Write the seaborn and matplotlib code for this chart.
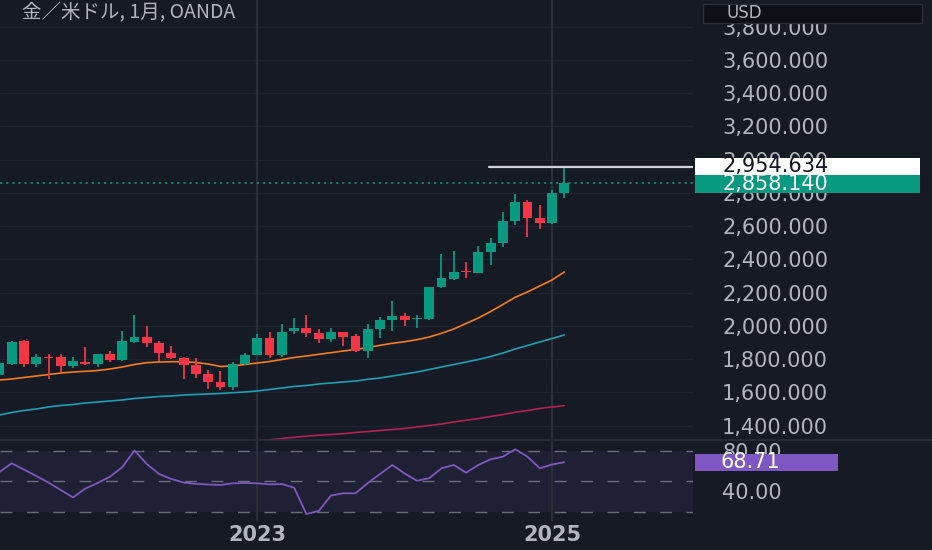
import numpy as np
import pandas as pd
import matplotlib
matplotlib.use("Agg")
import matplotlib.pyplot as plt
import seaborn as sns
from matplotlib.patches import Rectangle
from matplotlib.lines import Line2D

# ---------------- data ----------------
title = "金／米ドル, 1月, OANDA"
months = pd.date_range("2021-04-01", periods=47, freq="MS")

open_ = [1705.0, 1771.2, 1911.6, 1769.4, 1815.1, 1811.5, 1759.2, 1785.1, 1771.2, 1829.6,
         1795.3, 1905.3, 1935.4, 1899.3, 1839.2, 1805.5, 1765.2, 1711.0, 1661.1, 1631.0,
         1769.4, 1825.4, 1925.8, 1825.4, 1971.5, 1985.9, 1959.5, 1919.8, 1961.9, 1941.4,
         1849.5, 1981.8, 2036.0, 2060.0, 2040.2, 2042.0, 2232.6, 2282.5, 2330.6, 2320.4,
         2446.8, 2500.9, 2631.5, 2743.9, 2647.7, 2621.2, 2798.1]
high = [1797.0, 1911.3, 1916.0, 1831.4, 1831.0, 1831.0, 1811.5, 1875.3, 1833.0, 1851.2,
        1971.5, 2066.0, 1999.8, 1911.3, 1879.5, 1811.5, 1805.5, 1735.1, 1729.0, 1785.1,
        1835.6, 1949.9, 1961.9, 2011.9, 2046.0, 2066.0, 1981.8, 1985.9, 1965.0, 1951.7,
        2011.9, 2052.2, 2150.2, 2079.8, 2066.0, 2236.0, 2431.1, 2451.0, 2386.6, 2481.0,
        2527.4, 2683.8, 2792.1, 2757.8, 2727.7, 2818.0, 2954.634]
low = [1680.0, 1765.0, 1755.0, 1752.0, 1681.0, 1724.9, 1745.3, 1765.2, 1755.0, 1783.2,
       1788.0, 1895.7, 1875.3, 1789.3, 1803.0, 1681.0, 1688.0, 1619.1, 1614.8, 1616.0,
       1765.0, 1823.0, 1805.5, 1811.5, 1951.7, 1931.8, 1895.7, 1905.3, 1881.3, 1846.0,
       1809.2, 1925.8, 1971.5, 1999.8, 1986.0, 2035.0, 2228.0, 2277.0, 2286.7, 2318.0,
       2366.8, 2473.2, 2607.4, 2533.4, 2583.3, 2615.0, 2771.6]
close = [1777.2, 1905.3, 1771.2, 1815.1, 1807.3, 1759.2, 1789.3, 1771.2, 1829.6, 1795.3,
         1911.6, 1935.4, 1895.7, 1839.2, 1805.5, 1765.2, 1711.0, 1661.1, 1631.0, 1769.4,
         1825.4, 1925.8, 1825.4, 1965.5, 1985.9, 1959.5, 1921.6, 1965.5, 1935.4, 1849.5,
         1981.8, 2036.0, 2060.0, 2036.0, 2046.0, 2232.6, 2286.8, 2326.5, 2322.8, 2446.8,
         2500.9, 2631.5, 2743.9, 2647.7, 2621.2, 2798.1, 2858.14]

ma_orange = [1675.0, 1681.0, 1690.0, 1699.0, 1708.0, 1717.0, 1723.0, 1727.3, 1732.1, 1741.1,
             1753.1, 1768.2, 1779.1, 1783.2, 1785.0, 1785.0, 1780.2, 1771.2, 1756.2, 1759.2,
             1768.2, 1777.2, 1786.2, 1798.3, 1810.3, 1819.4, 1829.6, 1839.2, 1849.5, 1858.5,
             1870.5, 1883.8, 1895.8, 1905.4, 1917.4, 1933.7, 1955.9, 1981.8, 2014.9, 2047.9,
             2087.0, 2129.1, 2172.5, 2204.4, 2240.5, 2276.6, 2324.7]
ma_teal = [1464.4, 1479.4, 1491.5, 1500.5, 1512.6, 1521.6, 1527.6, 1536.6, 1542.6, 1548.7,
           1554.7, 1563.7, 1569.7, 1575.7, 1578.7, 1584.7, 1587.7, 1590.8, 1593.8, 1598.6,
           1602.8, 1608.8, 1617.8, 1626.8, 1635.9, 1641.9, 1650.9, 1656.9, 1662.9, 1668.9,
           1679.2, 1687.0, 1699.0, 1711.0, 1723.0, 1738.1, 1753.1, 1768.2, 1783.2, 1798.3,
           1816.3, 1837.4, 1861.4, 1882.5, 1903.6, 1924.6, 1945.7]
ma_red = [np.nan] * 21 + [1308.0, 1315.2, 1323.1, 1330.3, 1336.9, 1342.9, 1347.1, 1351.9, 1359.2,
                          1365.2, 1371.2, 1377.2, 1383.2, 1392.2, 1401.3, 1410.3, 1422.3, 1432.6,
                          1443.4, 1455.4, 1467.5, 1480.7, 1491.5, 1503.6, 1512.6, 1520.4]
rsi = [59.0, 67.6, 61.5, 55.1, 48.7, 41.3, 34.0, 42.8, 48.2, 54.4,
       63.7, 80.2, 66.9, 57.1, 52.2, 48.7, 47.4, 46.8, 46.3, 47.9,
       48.2, 47.9, 46.9, 47.2, 43.6, 17.7, 20.7, 35.9, 38.1, 38.1,
       48.2, 57.1, 65.9, 57.6, 50.5, 52.9, 62.7, 65.9, 58.4, 65.9,
       71.5, 74.1, 81.4, 74.1, 62.7, 66.4, 68.71]

price_ticks = [1400, 1600, 1800, 2000, 2200, 2400, 2600, 2800, 3000, 3200, 3400, 3600, 3800]
rsi_ticks = [40, 80]
rsi_bands = [80, 50, 20]
year_labels = ["2023", "2025"]

# ---------------- style ----------------
BG = "#161a25"
GRID = "#1f2330"
VGRID = "#2a2e39"
TXT = "#b2b5be"
UP = "#089981"
DOWN = "#f23645"
ORANGE = "#f57c1f"
TEAL = "#1f9fb5"
CRIMSON = "#b0234f"
PURPLE = "#7e57c2"

sns.set_theme(style="dark", rc={
    "axes.facecolor": BG, "figure.facecolor": BG, "savefig.facecolor": BG,
    "axes.edgecolor": BG, "grid.color": GRID,
})
plt.rcParams["font.family"] = ["DejaVu Sans", "Noto Sans CJK JP"]

W, H = 932, 550
fig = plt.figure(figsize=(W / 100, H / 100), dpi=100)

def fx(px):
    return px / W

def fy(py):
    return 1 - py / H

right_px = 693
ax = fig.add_axes([0, fy(440), fx(right_px), fy(0) - fy(440)])
ax2 = fig.add_axes([0, fy(521), fx(right_px), fy(441) - fy(521)])

df = pd.DataFrame({"month": months, "open": open_, "high": high, "low": low,
                   "close": close, "ma_o": ma_orange, "ma_t": ma_teal,
                   "ma_r": ma_red, "rsi": rsi})
df["idx"] = np.arange(len(df))
up = df["close"] >= df["open"]
colors = np.where(up, UP, DOWN)

# ---------------- main panel ----------------
ax.set_xlim(0.049, 56.48)
ax.set_ylim(1314.0, 3961.0)
for t in price_ticks:
    ax.axhline(t, color=GRID, lw=1, zorder=0)
year_idx = [int(df.index[(df["month"].dt.year == int(y)) & (df["month"].dt.month == 1)][0])
            for y in year_labels]
for xi in year_idx:
    ax.axvline(xi, color=VGRID, lw=1.6, zorder=0.5)
    ax2.axvline(xi, color=VGRID, lw=1.6, zorder=0.5)

sns.lineplot(data=df, x="idx", y="ma_t", ax=ax, color=TEAL, lw=1.2, estimator=None, zorder=2)
sns.lineplot(data=df.dropna(subset=["ma_r"]), x="idx", y="ma_r", ax=ax, color=CRIMSON,
             lw=1.2, estimator=None, zorder=2)
sns.lineplot(data=df, x="idx", y="ma_o", ax=ax, color=ORANGE, lw=1.2, estimator=None, zorder=2)

ax.vlines(df["idx"], df["low"], df["high"], colors=colors, lw=1.3, zorder=3)
body_lo = np.minimum(df["open"], df["close"])
body_h = np.maximum(np.abs(df["close"] - df["open"]), 6)
ax.bar(df["idx"], body_h, bottom=body_lo, width=0.8, color=colors, lw=0, zorder=4)

ax.axhline(df["close"].iloc[-1], color=UP, lw=1.1, ls=(0, (1.5, 2.5)), zorder=1)
ax.axhline(df["high"].iloc[-1], xmin=489 / right_px, xmax=1, color="#d1d4dc", lw=1.6, zorder=5)

ax.yaxis.tick_right()
ax.set_yticks(price_ticks)
ax.set_yticklabels([f"{v:,.3f}" for v in price_ticks])
ax.tick_params(axis="y", length=0, pad=21, labelsize=15, labelcolor=TXT)
ax.set_xticks([])
ax.set_xlabel("")
ax.set_ylabel("")
ax.grid(False)
for s in ax.spines.values():
    s.set_visible(False)

# ---------------- RSI panel ----------------
ax2.set_xlim(0.049, 56.48)
ax2.set_ylim(10.85, 89.54)
ax2.axhspan(min(rsi_bands), max(rsi_bands), color=PURPLE, alpha=0.1, lw=0, zorder=0)
for b in rsi_bands:
    ax2.axhline(b, color="#6a6d78", lw=1, ls=(0, (8.5, 10.5)), zorder=1)
sns.lineplot(data=df, x="idx", y="rsi", ax=ax2, color=PURPLE, lw=1.3, estimator=None, zorder=3)
ax2.yaxis.tick_right()
ax2.set_yticks(rsi_ticks)
ax2.set_yticklabels([f"{v:.2f}" for v in rsi_ticks])
ax2.tick_params(axis="y", length=0, pad=21, labelsize=15, labelcolor=TXT)
ax2.set_xticks(year_idx)
ax2.set_xticklabels(year_labels, fontweight="bold")
ax2.tick_params(axis="x", length=0, pad=3, labelsize=15, labelcolor=TXT)
ax2.set_xlabel("")
ax2.set_ylabel("")
ax2.grid(False)
for s in ax2.spines.values():
    s.set_visible(False)

# ---------------- overlays ----------------
fig.add_artist(Line2D([0, 1], [fy(440), fy(440)], transform=fig.transFigure,
                      color=VGRID, lw=1.2, zorder=2))

fig.text(fx(22), fy(13), title, ha="left", va="center", fontsize=14, color=TXT,
         family=["Noto Sans CJK JP", "DejaVu Sans"], zorder=5)

fig.add_artist(Rectangle((fx(703), fy(23)), fx(219), fy(4) - fy(23), transform=fig.transFigure,
                         facecolor="#0e1017", edgecolor="#2a2e39", lw=1, zorder=3))
fig.text(fx(727), fy(13.5), "USD", ha="left", va="center", fontsize=12, color=TXT, zorder=5)

fig.add_artist(Rectangle((fx(695), fy(175)), fx(225), fy(157.7) - fy(175), transform=fig.transFigure,
                         facecolor="#ffffff", edgecolor="none", zorder=3))
fig.text(fx(722), fy(166.5), f"{df['high'].iloc[-1]:,.3f}", ha="left", va="center",
         fontsize=15, color="#131722", zorder=5)
fig.add_artist(Rectangle((fx(695), fy(192.7)), fx(225), fy(175) - fy(192.7), transform=fig.transFigure,
                         facecolor=UP, edgecolor="none", zorder=3))
fig.text(fx(722), fy(184), f"{df['close'].iloc[-1]:,.3f}", ha="left", va="center",
         fontsize=15, color="#ffffff", zorder=5)

fig.add_artist(Rectangle((fx(695), fy(471)), fx(143), fy(453.7) - fy(471), transform=fig.transFigure,
                         facecolor=PURPLE, edgecolor="none", zorder=3))
fig.text(fx(720), fy(462.5), f"{df['rsi'].iloc[-1]:.2f}", ha="left", va="center",
         fontsize=15, color="#ffffff", zorder=5)

fig.savefig("out.png", dpi=100, facecolor=BG)
